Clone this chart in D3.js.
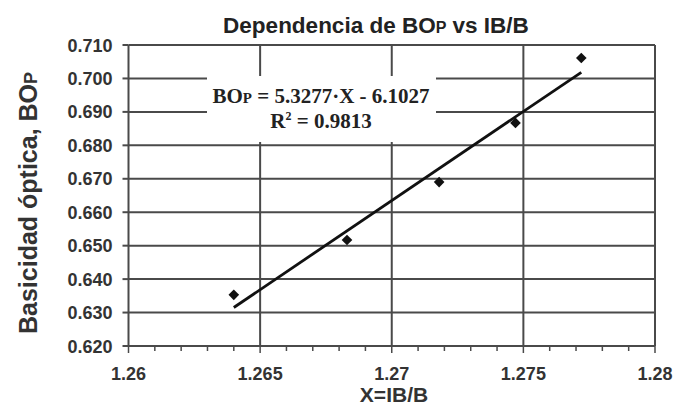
<!DOCTYPE html>
<html>
<head>
<meta charset="utf-8">
<script src="https://cdn.jsdelivr.net/npm/d3@7"></script>
<style>
  body { margin: 0; background: #fff; }
  svg { display: block; }
</style>
</head>
<body>
<svg width="676" height="408"></svg>
<script>
// data
const xVals = [1.2640, 1.2683, 1.2718, 1.2747, 1.2772];
const yVals = [0.6353, 0.6517, 0.6690, 0.6867, 0.7061];
const slope = 5.3277, intercept = -6.1027, r2 = 0.9813;
const xTicks = [1.26, 1.265, 1.27, 1.275, 1.28];
const xTickLabels = ["1.26", "1.265", "1.27", "1.275", "1.28"];
const yTicks = [0.62, 0.63, 0.64, 0.65, 0.66, 0.67, 0.68, 0.69, 0.70, 0.71];

let svg = d3.select("svg"),
    width = +svg.attr("width"),
    height = +svg.attr("height");

const margin = {left: 128.5, right: 21, top: 45, bottom: 62};
const x0 = margin.left, x1 = width - margin.right;
const y0 = height - margin.bottom, y1 = margin.top;

let x = d3.scaleLinear().domain([1.26, 1.28]).range([x0, x1]);
let y = d3.scaleLinear().domain([0.62, 0.71]).range([y0, y1]);

const gridColor = "#4a4a4a";
const sans = "Liberation Sans, Arial, sans-serif";

// gridlines
svg.append("g")
    .selectAll("line")
    .data(yTicks)
    .enter()
    .append("line")
    .attr("x1", x0).attr("x2", x1)
    .attr("y1", d => y(d)).attr("y2", d => y(d))
    .attr("stroke", gridColor)
    .attr("stroke-width", 2);

svg.append("g")
    .selectAll("line")
    .data(xTicks)
    .enter()
    .append("line")
    .attr("x1", d => x(d)).attr("x2", d => x(d))
    .attr("y1", y1).attr("y2", y0)
    .attr("stroke", gridColor)
    .attr("stroke-width", 2);

// x axis minor ticks (every 0.001)
let minor = d3.range(1.26, 1.2801, 0.001).map(v => +v.toFixed(3));
svg.append("g")
    .selectAll("line")
    .data(minor)
    .enter()
    .append("line")
    .attr("x1", d => x(d)).attr("x2", d => x(d))
    .attr("y1", y0).attr("y2", d => y0 + (xTicks.some(t => Math.abs(t - d) < 1e-9) ? 7 : 5))
    .attr("stroke", gridColor)
    .attr("stroke-width", 1.5);

// y axis small ticks
svg.append("g")
    .selectAll("line")
    .data(yTicks)
    .enter()
    .append("line")
    .attr("x1", x0 - 6).attr("x2", x0)
    .attr("y1", d => y(d)).attr("y2", d => y(d))
    .attr("stroke", gridColor)
    .attr("stroke-width", 2);

// box behind the equation
svg.append("rect")
    .attr("x", 207).attr("y", 76)
    .attr("width", 229).attr("height", 66)
    .attr("fill", "#fff");

// tick labels
svg.append("g")
    .selectAll("text")
    .data(yTicks)
    .enter()
    .append("text")
    .attr("x", x0 - 16)
    .attr("y", d => y(d) + 6.5)
    .attr("text-anchor", "end")
    .style("font-family", sans)
    .style("font-weight", "bold")
    .style("font-size", "18px")
    .style("fill", "#333")
    .text(d => d3.format(".3f")(d));

svg.append("g")
    .selectAll("text")
    .data(xTicks)
    .enter()
    .append("text")
    .attr("x", d => x(d))
    .attr("y", y0 + 34)
    .attr("text-anchor", "middle")
    .style("font-family", sans)
    .style("font-weight", "bold")
    .style("font-size", "18px")
    .style("fill", "#333")
    .text((d, i) => xTickLabels[i]);

// trendline
let xr = d3.extent(xVals);
svg.append("line")
    .attr("x1", x(xr[0])).attr("y1", y(slope * xr[0] + intercept))
    .attr("x2", x(xr[1])).attr("y2", y(slope * xr[1] + intercept))
    .attr("stroke", "#111")
    .attr("stroke-width", 2.8);

// points
svg.append("g")
    .selectAll("path")
    .data(xVals)
    .enter()
    .append("path")
    .attr("d", d3.symbol().type(d3.symbolDiamond2).size(72)())
    .attr("transform", (d, i) => "translate(" + x(d) + "," + y(yVals[i]) + ")")
    .attr("fill", "#111");

// title
let title = svg.append("text")
    .attr("x", 376)
    .attr("y", 33)
    .attr("text-anchor", "middle")
    .style("font-family", sans)
    .style("font-weight", "bold")
    .style("font-size", "22.5px")
    .style("fill", "#222");
title.append("tspan").text("Dependencia de BO");
title.append("tspan").style("font-size", "16px").text("P");
title.append("tspan").text(" vs IB/B");

// axis titles
svg.append("text")
    .attr("x", 394)
    .attr("y", 402)
    .attr("text-anchor", "middle")
    .style("font-family", sans)
    .style("font-weight", "bold")
    .style("font-size", "21px")
    .style("fill", "#333")
    .text("X=IB/B");

let ytitle = svg.append("text")
    .attr("transform", "translate(37,203) rotate(-90)")
    .attr("text-anchor", "middle")
    .style("font-family", sans)
    .style("font-weight", "bold")
    .style("font-size", "25px")
    .style("fill", "#333");
ytitle.append("tspan").text("Basicidad óptica, BO");
ytitle.append("tspan").style("font-size", "18px").text("P");

// equation
let eq = svg.append("text")
    .attr("x", 321)
    .attr("y", 103)
    .attr("text-anchor", "middle")
    .style("font-family", "Liberation Serif, Times New Roman, serif")
    .style("font-weight", "bold")
    .style("font-size", "21px")
    .style("fill", "#222");
eq.append("tspan").text("BO");
eq.append("tspan").style("font-size", "15px").text("P");
eq.append("tspan").text(" = " + slope + "·X - " + Math.abs(intercept));

let r = svg.append("text")
    .attr("x", 321)
    .attr("y", 128)
    .attr("text-anchor", "middle")
    .style("font-family", "Liberation Serif, Times New Roman, serif")
    .style("font-weight", "bold")
    .style("font-size", "21px")
    .style("fill", "#222");
r.append("tspan").text("R");
r.append("tspan").attr("dy", -8).style("font-size", "12px").text("2");
r.append("tspan").attr("dy", 8).text(" = " + r2);
</script>
</body>
</html>
